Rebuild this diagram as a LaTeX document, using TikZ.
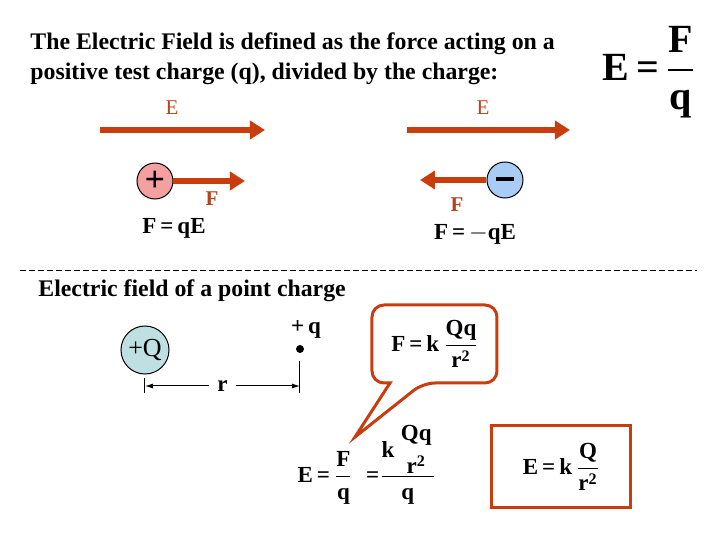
\documentclass[tikz,border=0pt]{standalone}
\usepackage{amsmath}
\usepackage{fontspec}
\setmainfont{Liberation Serif}
\usepackage{tikz}
\usetikzlibrary{positioning,arrows.meta}
\definecolor{rust}{RGB}{200,60,14}
\definecolor{lbl}{RGB}{181,68,28}
\definecolor{pinkq}{RGB}{244,160,160}
\definecolor{blueq}{RGB}{168,204,245}
\definecolor{tealq}{RGB}{191,224,226}
\tikzset{
  x=0.5pt, y=-0.5pt,
  bigarrow/.style={-{Triangle[length=7.5pt,width=9pt]},line width=3pt,rust},
  chg/.style={circle,draw=black,line width=0.5pt,minimum size=18pt,inner sep=0pt},
  veclbl/.style={font=\fontsize{10.5}{12}\selectfont,text=lbl,inner sep=1pt},
  eqn/.style={font=\fontsize{11.5}{13}\selectfont\bfseries,inner sep=1pt},
  redbox/.style={draw=rust,line width=1.5pt},
  dimline/.style={{Latex[length=4pt,width=2.5pt]}-{Latex[length=4pt,width=2.5pt]},line width=0.5pt},
}
\newcommand{\bb}[1]{\textbf{#1}}
\newcommand{\eqs}{\,\bb{=}\,}
\begin{document}
\begin{tikzpicture}
  \useasboundingbox (0,0) rectangle (720,540);
  % heading and definition
  \node[anchor=base west,align=left,inner sep=0pt,
    font=\fontsize{11.9}{15}\selectfont\bfseries] (title) at (30,80)
    {The Electric Field is defined as the force acting on a\\
     positive test charge (q), divided by the charge:};
  \node[inner sep=0pt,font=\fontsize{20}{24}\selectfont] (defn) at (649,72)
    {$\bb{E}\eqs\dfrac{\bb{F}}{\bb{q}}$};
  % positive test charge
  \node[veclbl] (E1) at (172,108) {E};
  \coordinate (E1a) at (100,130);
  \coordinate (E1b) at (265,130);
  \draw[bigarrow] (E1a) -- (E1b);
  \node[chg,fill=pinkq,font=\fontsize{18}{18}\selectfont\bfseries] (pos) at (155,181) {+};
  \coordinate (Fpos) at (245,181);
  \draw[bigarrow] (pos) -- (Fpos);
  \node[veclbl,font=\fontsize{10.5}{12}\selectfont\bfseries] (F1) at (212,199) {F};
  \node[eqn] (Fq) at (174,228) {$\bb{F}\eqs\bb{qE}$};
  % negative test charge
  \node[veclbl] (E2) at (483,108) {E};
  \coordinate (E2a) at (407,130);
  \coordinate (E2b) at (570,130);
  \draw[bigarrow] (E2a) -- (E2b);
  \node[chg,fill=blueq,font=\fontsize{18}{18}\selectfont\bfseries] (neg) at (505,180) {\raisebox{1pt}{\rule{9pt}{2.2pt}}};
  \coordinate (Fneg) at (420,180);
  \draw[bigarrow] (neg) -- (Fneg);
  \node[veclbl,font=\fontsize{10.5}{12}\selectfont\bfseries] (F2) at (457,205) {F};
  \node[eqn] (Fmq) at (475,234) {$\bb{F}\eqs{-}\bb{qE}$};
  % separator
  \coordinate (sepl) at (20,270);
  \coordinate (sepr) at (697,270);
  \draw[dash pattern=on 3pt off 1.5pt,line width=0.4pt] (sepl) -- (sepr);
  % point charge
  \node[anchor=base west,inner sep=0pt,font=\fontsize{11.9}{14}\selectfont\bfseries]
    (sub) at (38,297) {Electric field of a point charge};
  \node[chg,fill=tealq,minimum size=24pt,font=\fontsize{13}{14}\selectfont] (Q) at (145,350) {+Q};
  \node[circle,fill=black,inner sep=0pt,minimum size=4pt] (q) at (300,349) {};
  \node[eqn,anchor=base] (qlbl) at (306,334) {+\,q};
  \coordinate (rl) at (145,386);
  \coordinate (rr) at (300,386);
  \draw[line width=0.5pt] (145,378) -- (145,393);
  \draw[line width=0.5pt] (300,361) -- (300,393);
  \draw[dimline] (rl) -- (rr) node[midway,fill=white,eqn,inner xsep=4pt] (r) {r};
  % speech bubble
  \coordinate (tip) at (355,437);
  \draw[redbox,fill=white] (390,383) [rounded corners=6pt] -- (372,383) -- (372,305)
    -- (497,305) -- (497,383) -- (423,383) [sharp corners] -- (tip) -- cycle;
  \node[eqn] (coul) at (435,344) {$\bb{F}\eqs\bb{k}\,\dfrac{\bb{Qq}}{\bb{r}^{\bb{2}}}$};
  % derivation
  \node[eqn] (deriv) at (367,465)
    {$\bb{E}\eqs\dfrac{\bb{F}}{\bb{q}}\;\;\bb{=}\dfrac{\bb{k}\,\genfrac{}{}{0pt}{0}{\bb{Qq}}{\bb{r}^{\bb{2}}}}{\bb{q}}$};
  \node[redbox,minimum width=69.5pt,minimum height=41pt] (res) at (561.5,467) {};
  \node[eqn] (resq) at (res) {$\bb{E}\eqs\bb{k}\,\dfrac{\bb{Q}}{\bb{r}^{\bb{2}}}$};
\end{tikzpicture}
\end{document}
